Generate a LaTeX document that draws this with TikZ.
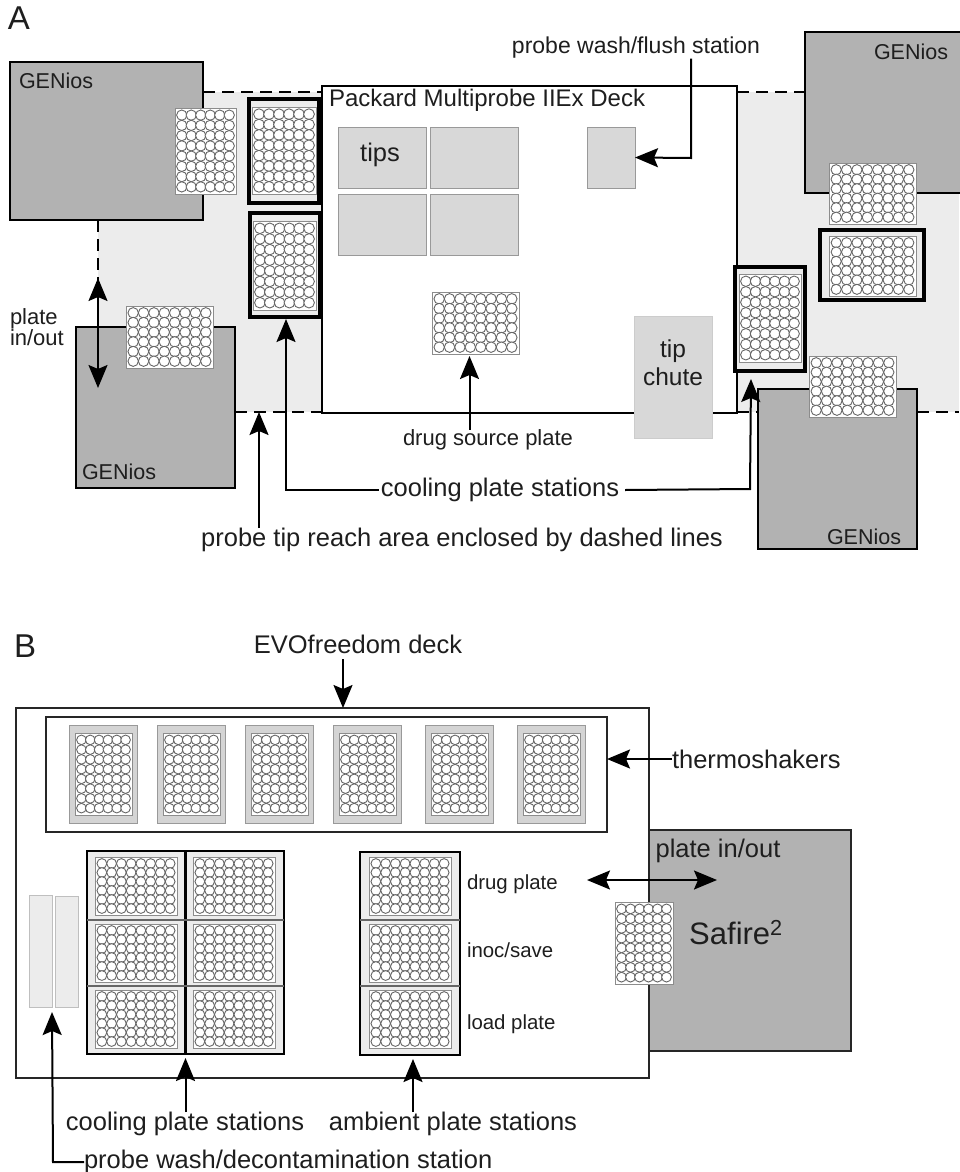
\documentclass[tikz,border=0pt]{standalone}
\usepackage{fontspec}
\setmainfont{Liberation Sans}
\usetikzlibrary{positioning, calc, arrows.meta}
\definecolor{reachgray}{HTML}{ECECEC}
\definecolor{genioscol}{HTML}{B2B2B2}
\definecolor{tipcol}{HTML}{D8D8D8}
\definecolor{inkcol}{HTML}{1E1E1E}
\tikzset{
    every node/.append style={inner sep=0pt, outer sep=0pt, text=inkcol},
    wh/.style 2 args={minimum width=#1, minimum height=#2, anchor=north west},
    genios/.style={draw=black, line width=2pt, fill=genioscol},
    deckbox/.style={draw=black, line width=2pt, fill=white},
    tipbox/.style={draw=gray!80, line width=1pt, fill=tipcol},
    washbox/.style={draw=gray!50, line width=1pt, fill=reachgray},
    station/.style={draw=black, line width=4.5pt, fill=reachgray},
    rack/.style={draw=black, line width=2.5pt, fill=reachgray},
    shaker/.style={draw=gray!80, line width=1pt, fill=reachgray!90!black},
    plate/.style={draw=gray!90, line width=1pt, fill=white},
    well/.style={draw=black!60, line width=0.9pt, fill=white},
    reach/.style={line width=2pt, dash pattern=on 12pt off 7pt},
    arr/.style={line width=2pt, -{Stealth[length=23pt,width=19pt,inset=4pt]}},
    arrboth/.style={line width=2pt, {Stealth[length=23pt,width=19pt,inset=4pt]}-{Stealth[length=23pt,width=19pt,inset=4pt]}},
    lbl/.style={font=\fontsize{25.5}{28}\selectfont},
    lblmid/.style={font=\fontsize{23}{26}\selectfont},
    lbllow/.style={font=\fontsize{22}{21}\selectfont},
    readername/.style={font=\fontsize{21.5}{24}\selectfont, anchor=west},
    small/.style={font=\fontsize{20.4}{22}\selectfont},
    panel/.style={font=\fontsize{33}{36}\selectfont},
}
% plate with wells: name, x, y, w, h, cols, rows
\newcommand{\wellplate}[7]{%
    \node[plate, wh={#4}{#5}] (#1) at (#2,#3) {};
    \pgfmathsetmacro{\wellx}{(#4-4)/#6}
    \pgfmathsetmacro{\welly}{(#5-4)/#7}
    \pgfmathsetmacro{\wellr}{min(\wellx,\welly)/2+0.4}
    \foreach \c in {1,...,#6}
        \foreach \r in {1,...,#7}
            \draw[well] ({#2+2+(\c-.5)*\wellx},{#3+2+(\r-.5)*\welly}) circle[radius=\wellr];
}
\begin{document}
\begin{tikzpicture}[x=1pt,y=-1pt]
    \useasboundingbox (0,0) rectangle (959,1172);

    % Panel A: reach area
    \coordinate (areaNW) at (98,92);
    \coordinate (areaSE) at (959,412);
    \fill[reachgray] (areaNW) rectangle (areaSE);
    \node[panel, anchor=north west] (panelA) at (8,7) {A};

    % GENios readers
    \node[genios, wh={193}{158}] (genTL) at (10,62) {};
    \node[genios, wh={159}{161}] (genBL) at (76,327) {};
    \node[genios, wh={156}{161}] (genTR) at (805,32) {};
    \node[genios, wh={159}{160}] (genBR) at (758,389) {};
    \node[readername] (nameTL) at (19,81) {GENios};
    \node[readername] (nameBL) at (82,472) {GENios};
    \node[readername] (nameTR) at (874,52) {GENios};
    \node[readername] (nameBR) at (827,537) {GENios};

    % Dashed reach lines
    \node[deckbox, wh={415}{327}] (deckA) at (322,86) {};
    \draw[reach] (areaNW -| genTL.east) -- (areaNW -| deckA.west);
    \draw[reach] (areaNW -| deckA.east) -- (areaNW -| genTR.west);
    \draw[reach] (areaSE -| genBL.east) -- (areaSE -| deckA.west);
    \draw[reach] (areaSE -| deckA.east) -- (areaSE -| genBR.west);
    \draw[reach] (areaSE -| genBR.east) -- (areaSE);
    \draw[reach] (genTL.south -| areaNW) -- (98,280);
    \node[anchor=west, font=\fontsize{24}{26}\selectfont] (deckname) at (329,100) {Packard Multiprobe IIEx Deck};

    % Deck positions
    \node[tipbox, wh={88}{61}] (tipsA) at (338,127) {};
    \node[tipbox, wh={88}{61}] (tipsB) at (430,127) {};
    \node[tipbox, wh={88}{61}] (tipsC) at (338,194) {};
    \node[tipbox, wh={88}{61}] (tipsD) at (430,194) {};
    \node[lbl] (tipsname) at (380,155) {tips};
    \node[tipbox, wh={48}{61}] (washA) at (587,127) {};
    \node[tipbox, draw=gray!40, wh={78}{122}] (chute) at (634,316) {};
    \node[align=center, font=\fontsize{24.5}{28}\selectfont] (chutename) at (673,363) {tip\\chute};

    % Cooling stations
    \node[station, wh={70}{104}] (coolA) at (249,99) {};
    \node[station, wh={70}{104}] (coolB) at (250,213) {};
    \node[station, wh={70}{104}] (coolC) at (735,267) {};
    \node[station, wh={104}{70}] (coolD) at (820,230) {};
    \wellplate{plateCoolA}{252}{107}{64}{87}{6}{8}
    \wellplate{plateCoolB}{253}{221}{63}{89}{6}{8}
    \wellplate{plateCoolC}{739}{274}{62}{88}{6}{8}
    \wellplate{plateCoolD}{829}{236}{87}{60}{8}{6}

    % Plates on readers and deck
    \wellplate{plateTL}{175}{108}{61}{86}{6}{8}
    \wellplate{plateBL}{126}{306}{87}{62}{8}{6}
    \wellplate{plateTR}{829}{163}{87}{61}{8}{6}
    \wellplate{plateBR}{809}{356}{87}{61}{8}{6}
    \wellplate{plateDrug}{432}{292}{87}{62}{8}{6}

    % Panel A labels
    \node[lbllow, anchor=north west, align=left] (inout) at (10,309) {plate\\in/out};
    \node[lblmid] (washname) at (636,48) {probe wash/flush station};
    \node[lbllow] (drugname) at (488,440) {drug source plate};
    \node[lbl] (coolname) at (500,490) {cooling plate stations};
    \node[lbl] (reachname) at (462,540) {probe tip reach area enclosed by dashed lines};

    % Panel A arrows
    \draw[arrboth] (98,278) -- (98,388);
    \draw[arr] (washname.south -| 691,0) -- (691,158) -- (washA.east);
    \draw[arr] ([xshift=-6pt]plateDrug.south |- drugname.north) -- ([xshift=-6pt,yshift=-2pt]plateDrug.south);
    \draw[arr] ([xshift=-2pt]coolname.west) -- ([xshift=1pt]coolname.west -| coolB.south) -- ([xshift=1pt,yshift=-2pt]coolB.south);
    \draw[arr] ([xshift=6pt]coolname.east) -- (750,489) -- (751,379);
    \draw[arr] ([xshift=-203pt]reachname.north) -- ([xshift=-203pt]reachname.north |- areaSE);

    % Panel B
    \node[panel, anchor=north west] (panelB) at (14,635) {B};
    \node[lbl] (evoname) at (358,644) {EVOfreedom deck};
    \node[deckbox, draw=black!85, wh={633}{370}] (deckB) at (16,708) {};
    \draw[arr] ([xshift=-15pt,yshift=-6pt]evoname.south) -- ([xshift=-15pt]deckB.north -| evoname.south);

    % Thermoshakers
    \node[deckbox, draw=black!85, wh={561}{115}] (shakers) at (46,717) {};
    \foreach \n/\x in {1/69,2/157,3/245,4/333,5/425,6/517} {
        \node[shaker, wh={68}{98}] (shaker\n) at (\x,725) {};
        \wellplate{plateS\n}{\x+6}{733}{57}{82}{6}{8}
    }
    \node[lbl, anchor=west] (shakername) at (672,759) {thermoshakers};
    \draw[arr] (shakername.west) -- (shakers.east |- shakername.west);

    % Cooling and ambient racks
    \node[rack, wh={197}{203}] (coolrack) at (87,851) {};
    \node[rack, wh={100}{203}] (ambrack) at (360,852) {};
    \draw[line width=3pt] (coolrack.north) -- (coolrack.south);
    \foreach \y in {920,986} {
        \draw[line width=1.5pt, draw=black!60] (coolrack.west |- 0,\y) -- (coolrack.east |- 0,\y);
        \draw[line width=1.5pt, draw=black!60] (ambrack.west |- 0,\y) -- (ambrack.east |- 0,\y);
    }
    \foreach \n/\y in {1/857,2/924,3/990} {
        \wellplate{plateL\n}{95}{\y}{82}{58}{8}{6}
        \wellplate{plateR\n}{193}{\y}{82}{58}{8}{6}
        \wellplate{plateM\n}{369}{\y}{82}{58}{8}{6}
    }
    \node[small, anchor=west] (drugB) at (467,884) {drug plate};
    \node[small, anchor=west] (inocB) at (467,950) {inoc/save};
    \node[small, anchor=west] (loadB) at (467,1024) {load plate};

    % Wash bars
    \node[washbox, wh={23}{112}] (barA) at (29,895) {};
    \node[washbox, wh={23}{111}] (barB) at (55,896) {};

    % Safire
    \node[genios, draw=black!85, wh={202}{221}] (safire) at (649,830) {};
    \wellplate{plateSaf}{615}{902}{58}{82}{6}{8}
    \node[font=\fontsize{31}{34}\selectfont] (safirename) at (736,933) {Safire\textsuperscript{2}};
    \node[lbl] (inoutB) at (718,851) {plate in/out};
    \draw[arrboth] (587,880) -- (717,880);

    % Panel B labels and arrows
    \node[lbl] (coolnameB) at (185,1124) {cooling plate stations};
    \node[lbl] (ambname) at (453,1124) {ambient plate stations};
    \node[lbl, anchor=west] (probename) at (84,1162) {probe wash/decontamination station};
    \draw[arr] (coolrack.south |- coolnameB.north) -- ([yshift=-4pt]coolrack.south);
    \draw[arr] ([xshift=3pt]ambrack.south |- ambname.north) -- ([xshift=3pt,yshift=-4pt]ambrack.south);
    \draw[arr] (probename.west) -- (53,1162) -- ([yshift=-5pt]barA.south east);
\end{tikzpicture}
\end{document}
